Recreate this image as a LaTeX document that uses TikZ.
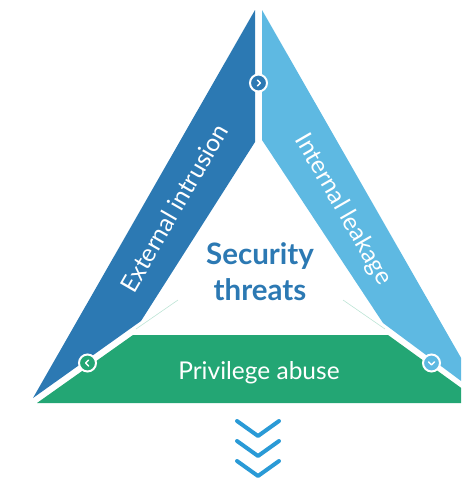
\documentclass[tikz,border=0pt]{standalone}
\usepackage{fontspec}
\setmainfont{Lato}
\usepackage{tikz}

\definecolor{darkbar}{RGB}{44,121,179}
\definecolor{lightbar}{RGB}{94,185,226}
\definecolor{greenbar}{RGB}{35,166,116}
\definecolor{arrowblue}{RGB}{42,154,214}

\tikzset{
  badge/.style={circle,fill=#1,draw=white,line width=2pt,minimum size=17pt,inner sep=0pt},
  chev/.style={white,line width=1.4pt,line cap=round,line join=round},
  downchev/.style={arrowblue,line width=4pt,line cap=round,line join=round},
  bartext/.style={text=white,font=\fontsize{24.5}{26}\selectfont},
}

\begin{document}
\begin{tikzpicture}[x=1pt,y=-1pt]
	% page frame
	\useasboundingbox (0,0) rectangle (461,479);
	\clip (0,0) rectangle (461,479);
	% left bar
	\fill[darkbar] (255,10) -- (255,142) -- (141,321) -- (33,398) -- cycle;
	% right bar
	\fill[lightbar] (262,10) -- (262,140) -- (383,323) -- (484,398) -- cycle;
	% bottom bar
	\fill[greenbar] (37,403) -- (133,335) -- (388,335) -- (482,403) -- cycle;
	% faint inner guide lines
	\draw[greenbar!30,line width=0.6pt] (136,329) -- (178,300);
	\draw[greenbar!30,line width=0.6pt] (385,329) -- (343,300);
	% labels
	\node[bartext,rotate=60] (ext) at (174,208) {External intrusion};
	\node[bartext,rotate=-60] (int) at (343,210) {Internal leakage};
	\node[bartext] (abuse) at (259,373) {Privilege abuse};
	\node[align=center,text=darkbar,font=\bfseries\fontsize{29.5}{36}\selectfont] (threats) at (260,272) {Security\\threats};
	% badges on the joints
	\node[badge=darkbar] (btop) at (258.5,83) {};
	\draw[chev] (btop.center) ++(-1.2,-3) -- ++(3,3) -- ++(-3,3);
	\node[badge=greenbar] (bleft) at (87.5,363) {};
	\draw[chev] (bleft.center) ++(1.2,-3) -- ++(-3,3) -- ++(3,3);
	\node[badge=lightbar] (bright) at (431.5,363) {};
	\draw[chev] (bright.center) ++(-3,-1.2) -- ++(3,3) -- ++(3,-3);
	% down arrows
	\foreach \y in {421,441,461}
		\draw[downchev] (237,\y) -- (258,\y+15) -- (279,\y);
\end{tikzpicture}
\end{document}
